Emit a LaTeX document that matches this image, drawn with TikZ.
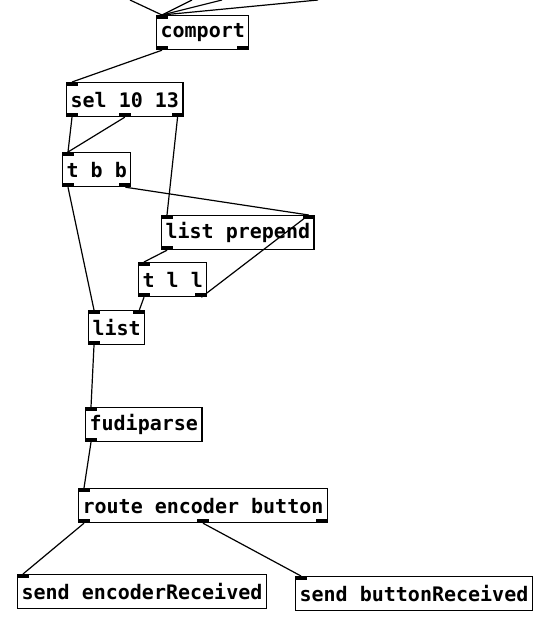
\documentclass[tikz,border=0pt]{standalone}
\usepackage{fontspec}
\newfontfamily\pdfont{DejaVu Sans Mono}
\usetikzlibrary{calc}

\tikzset{
  pdobj/.style={draw, line width=1.2pt, anchor=north west, inner xsep=4pt,
    inner ysep=0pt, minimum height=34pt,
    font=\pdfont\bfseries\fontsize{20}{24}\selectfont},
  wire/.style={line width=1.2pt},
}
% iolets: node name, position along the edge (0 = left, 1 = right)
\newcommand{\pdinlet}[2]{\fill ($(#1.north west)!#2!(#1.north east)+(-12*#2,0)$) rectangle ++(12,4);}
\newcommand{\pdoutlet}[2]{\fill ($(#1.south west)!#2!(#1.south east)+(-12*#2,0)$) rectangle ++(12,-4);}
% connection: outlet of #1 at #2 to inlet of #3 at #4
\newcommand{\pdwire}[4]{\draw[wire] ($(#1.south west)!#2!(#1.south east)+(6-12*#2,0)$) -- ($(#3.north west)!#4!(#3.north east)+(6-12*#4,0)$);}

\begin{document}
\begin{tikzpicture}[x=1pt, y=-1pt]
  \fill[white] (0,0) rectangle (550,622);
  \useasboundingbox (0,0) rectangle (550,622);
  % Objects
  \node[pdobj] (comport) at (156,15) {comport};
  \node[pdobj] (sel) at (66,82) {sel 10 13};
  \node[pdobj] (tbb) at (62,152) {t b b};
  \node[pdobj] (prepend) at (161,215) {list prepend};
  \node[pdobj] (tll) at (138,262) {t l l};
  \node[pdobj] (list) at (88,310) {list};
  \node[pdobj] (fudi) at (85,407) {fudiparse};
  \node[pdobj] (route) at (78,488) {route encoder button};
  \node[pdobj] (sendenc) at (17,574) {send encoderReceived};
  \node[pdobj] (sendbut) at (295,576) {send buttonReceived};
  % Inlets and outlets
  \pdinlet{comport}{0} \pdoutlet{comport}{0} \pdoutlet{comport}{1}
  \pdinlet{sel}{0} \pdoutlet{sel}{0} \pdoutlet{sel}{0.5} \pdoutlet{sel}{1}
  \pdinlet{tbb}{0} \pdoutlet{tbb}{0} \pdoutlet{tbb}{1}
  \pdinlet{prepend}{0} \pdinlet{prepend}{1} \pdoutlet{prepend}{0}
  \pdinlet{tll}{0} \pdoutlet{tll}{0} \pdoutlet{tll}{1}
  \pdinlet{list}{0} \pdinlet{list}{1} \pdoutlet{list}{0}
  \pdinlet{fudi}{0} \pdoutlet{fudi}{0}
  \pdinlet{route}{0} \pdoutlet{route}{0} \pdoutlet{route}{0.5} \pdoutlet{route}{1}
  \pdinlet{sendenc}{0}
  \pdinlet{sendbut}{0}
  % Incoming wires from above
  \coordinate (in1) at (130,0);
  \coordinate (in2) at (192,0);
  \coordinate (in3) at (222,0);
  \coordinate (in4) at (318,0);
  \foreach \c in {in1,in2,in3,in4}
    \draw[wire] (\c) -- ($(comport.north west)+(6,0)$);
  % Connections
  \pdwire{comport}{0}{sel}{0}
  \pdwire{sel}{0}{tbb}{0}
  \pdwire{sel}{0.5}{tbb}{0}
  \pdwire{sel}{1}{prepend}{0}
  \pdwire{tbb}{1}{prepend}{1}
  \pdwire{prepend}{0}{tll}{0}
  \pdwire{tll}{1}{prepend}{1}
  \pdwire{tll}{0}{list}{1}
  \pdwire{tbb}{0}{list}{0}
  \pdwire{list}{0}{fudi}{0}
  \pdwire{fudi}{0}{route}{0}
  \pdwire{route}{0}{sendenc}{0}
  \pdwire{route}{0.5}{sendbut}{0}
\end{tikzpicture}
\end{document}
